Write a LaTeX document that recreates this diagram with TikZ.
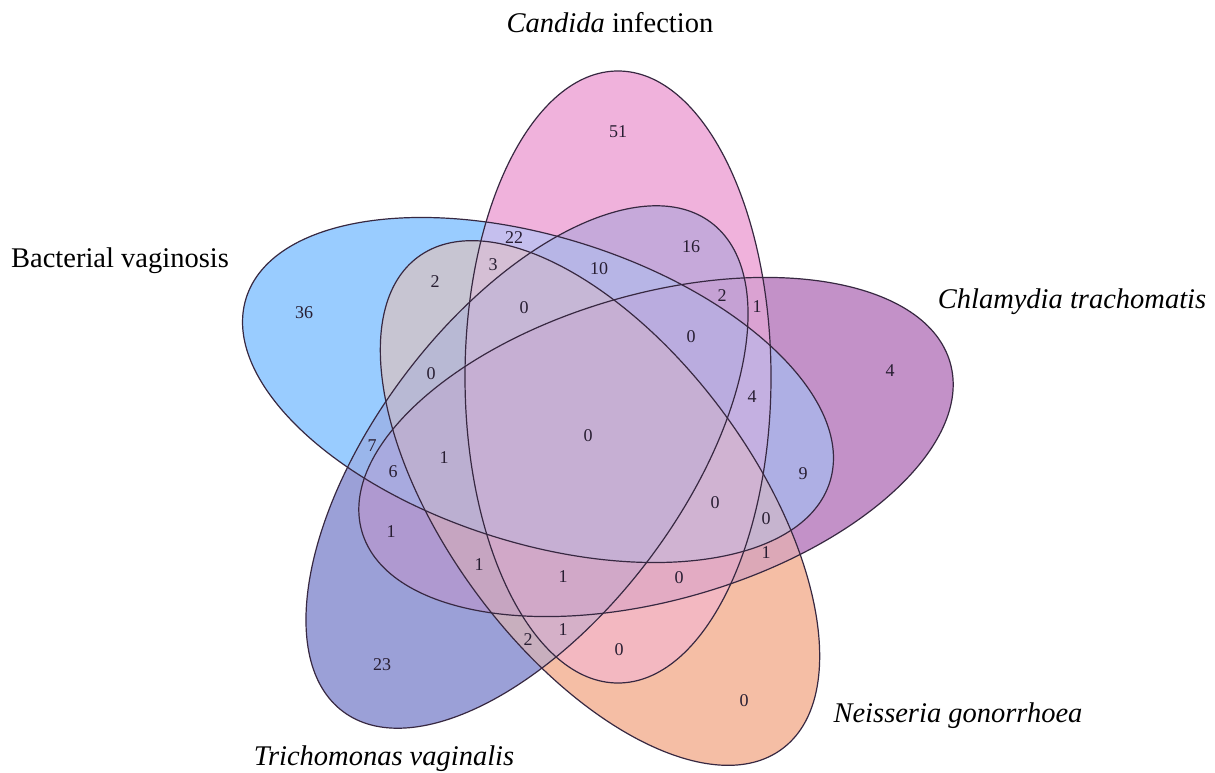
\documentclass[tikz,border=0pt]{standalone}
\usepackage{fontspec}
\setmainfont{Liberation Serif}
\begin{document}
\begin{tikzpicture}[x=1pt,y=-1pt,
  % the five congruent ellipses: centre and tilt of each
  setA/.style={shift={(618,377)}, rotate=90},    % Candida infection
  setB/.style={shift={(538,390)}, rotate=-17.5}, % Bacterial vaginosis
  setC/.style={shift={(656,447)}, rotate=16},    % Chlamydia trachomatis
  setD/.style={shift={(527,467)}, rotate=53},    % Trichomonas vaginalis
  setE/.style={shift={(600,503)}, rotate=-53.5}, % Neisseria gonorrhoea
  outline/.style={draw=edgecol, line width=1.2pt},
  num/.style={font=\fontsize{18}{20}\selectfont, text=numcol, inner sep=0pt},
  setlabel/.style={font=\fontsize{28.5}{32}\selectfont, text=black, inner sep=0pt, anchor=base}]
\definecolor{edgecol}{RGB}{55,40,65}
\definecolor{numcol}{RGB}{40,30,50}
\newcommand\setpath{(0,0) ellipse [x radius=306pt, y radius=153pt]}

\useasboundingbox (0,0) rectangle (1215,773);
\fill[white] (0,0) rectangle (1215,773);

% every region is filled with the mean of the colours of the sets it lies in;
% regions are painted in order of the number of sets, so each one ends up
% covered by its own colour only
\foreach \n in {1,2,4,8,16,3,5,6,9,10,12,17,18,20,24,7,11,13,14,19,21,22,25,26,28,15,23,27,29,30,31}{
  \pgfmathtruncatemacro\inA{mod(\n,2)}
  \pgfmathtruncatemacro\inB{mod(floor(\n/2),2)}
  \pgfmathtruncatemacro\inC{mod(floor(\n/4),2)}
  \pgfmathtruncatemacro\inD{mod(floor(\n/8),2)}
  \pgfmathtruncatemacro\inE{mod(floor(\n/16),2)}
  \pgfmathtruncatemacro\nsets{\inA+\inB+\inC+\inD+\inE}
  \pgfmathtruncatemacro\cR{round((\inA*240+\inB*153+\inC*195+\inD*155+\inE*245)/\nsets)}
  \pgfmathtruncatemacro\cG{round((\inA*178+\inB*204+\inC*145+\inD*160+\inE*190)/\nsets)}
  \pgfmathtruncatemacro\cB{round((\inA*220+\inB*255+\inC*200+\inD*215+\inE*165)/\nsets)}
  \definecolor{regionfill}{RGB}{\cR,\cG,\cB}
  \begin{scope}
    \ifnum\inA=1 \clip[setA] \setpath; \fi
    \ifnum\inB=1 \clip[setB] \setpath; \fi
    \ifnum\inC=1 \clip[setC] \setpath; \fi
    \ifnum\inD=1 \clip[setD] \setpath; \fi
    \ifnum\inE=1 \clip[setE] \setpath; \fi
    \fill[regionfill] (0,0) rectangle (1215,773);
  \end{scope}
}

% outlines
\draw[outline, setA] \setpath;
\draw[outline, setB] \setpath;
\draw[outline, setC] \setpath;
\draw[outline, setD] \setpath;
\draw[outline, setE] \setpath;

% set names
\node[setlabel] (labA) at (610,33) {\textit{Candida} infection};
\node[setlabel] (labB) at (120,267) {Bacterial vaginosis};
\node[setlabel] (labC) at (1072,308) {\textit{Chlamydia trachomatis}};
\node[setlabel] (labE) at (958,722) {\textit{Neisseria gonorrhoea}};
\node[setlabel] (labD) at (384,765) {\textit{Trichomonas vaginalis}};

% counts
\node[num] (n01) at (618,132) {51};
\node[num] (n02) at (514,238) {22};
\node[num] (n03) at (691,247) {16};
\node[num] (n04) at (493,265) {3};
\node[num] (n05) at (599,269) {10};
\node[num] (n06) at (435,282) {2};
\node[num] (n07) at (722,296) {2};
\node[num] (n08) at (757,307) {1};
\node[num] (n09) at (524,308) {0};
\node[num] (n10) at (304,313) {36};
\node[num] (n11) at (691,337) {0};
\node[num] (n12) at (890,371) {4};
\node[num] (n13) at (431,374) {0};
\node[num] (n14) at (752,397) {4};
\node[num] (n15) at (588,436) {0};
\node[num] (n16) at (372,446) {7};
\node[num] (n17) at (444,458) {1};
\node[num] (n18) at (393,472) {6};
\node[num] (n19) at (803,474) {9};
\node[num] (n20) at (715,503) {0};
\node[num] (n21) at (766,519) {0};
\node[num] (n22) at (391,532) {1};
\node[num] (n23) at (766,553) {1};
\node[num] (n24) at (479,565) {1};
\node[num] (n25) at (563,577) {1};
\node[num] (n26) at (679,578) {0};
\node[num] (n27) at (563,630) {1};
\node[num] (n28) at (528,640) {2};
\node[num] (n29) at (619,650) {0};
\node[num] (n30) at (382,665) {23};
\node[num] (n31) at (744,701) {0};
\end{tikzpicture}
\end{document}
